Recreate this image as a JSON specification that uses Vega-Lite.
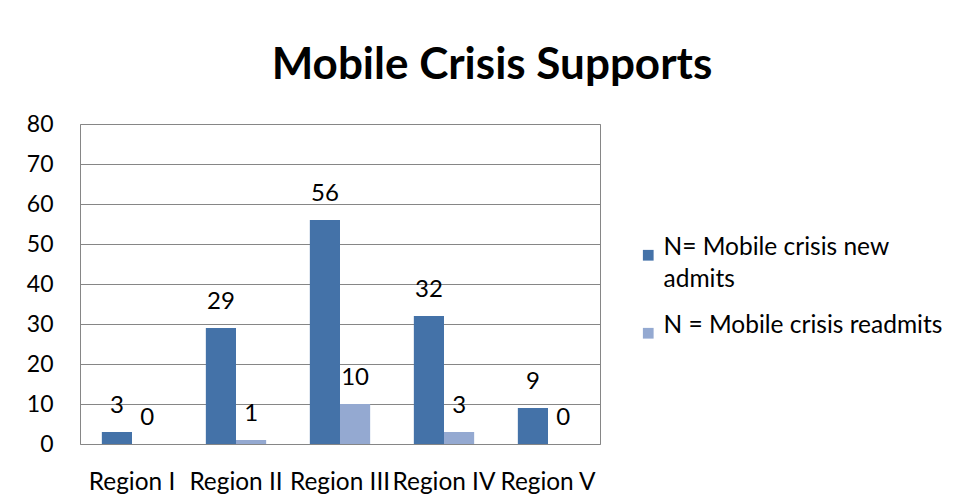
{
  "$schema": "https://vega.github.io/schema/vega-lite/v6.json",
  "width": 520,
  "height": 320,
  "autosize": {"type": "none"},
  "padding": {"left": 80, "top": 124, "right": 356, "bottom": 60},
  "background": "white",
  "config": {
    "font": "Lato",
    "view": {"stroke": "#868686", "strokeWidth": 1},
    "axis": {"labelFont": "Lato", "labelColor": "#000000", "ticks": false, "domain": false, "title": null},
    "style": {"guide-label": {"lineHeight": 32}}
  },
  "title": {
    "text": "Mobile Crisis Supports",
    "font": "Lato",
    "fontSize": 44,
    "fontWeight": "bold",
    "color": "#000000",
    "anchor": "middle",
    "frame": "group",
    "dx": 152,
    "dy": 44,
    "baseline": "alphabetic",
    "offset": 34
  },
  "data": {
    "values": [
      {"region": "Region I", "series": "N= Mobile crisis new admits", "value": 3},
      {"region": "Region I", "series": "N = Mobile crisis readmits", "value": 0},
      {"region": "Region II", "series": "N= Mobile crisis new admits", "value": 29},
      {"region": "Region II", "series": "N = Mobile crisis readmits", "value": 1},
      {"region": "Region III", "series": "N= Mobile crisis new admits", "value": 56},
      {"region": "Region III", "series": "N = Mobile crisis readmits", "value": 10},
      {"region": "Region IV", "series": "N= Mobile crisis new admits", "value": 32},
      {"region": "Region IV", "series": "N = Mobile crisis readmits", "value": 3},
      {"region": "Region V", "series": "N= Mobile crisis new admits", "value": 9},
      {"region": "Region V", "series": "N = Mobile crisis readmits", "value": 0}
    ]
  },
  "encoding": {
    "x": {
      "field": "region",
      "type": "nominal",
      "sort": ["Region I", "Region II", "Region III", "Region IV", "Region V"],
      "scale": {"paddingInner": 0.42, "paddingOuter": 0.21},
      "axis": {"labelAngle": 0, "labelPadding": 26, "labelOverlap": false, "labelLimit": 0, "grid": false, "labelFontSize": 24.4}
    },
    "xOffset": {
      "field": "series",
      "type": "nominal",
      "sort": ["N= Mobile crisis new admits", "N = Mobile crisis readmits"]
    },
    "y": {
      "field": "value",
      "type": "quantitative",
      "scale": {"domain": [0, 80], "nice": false},
      "axis": {"values": [0, 10, 20, 30, 40, 50, 60, 70, 80], "labelPadding": 27, "labelFontSize": 23, "grid": true, "gridColor": "#868686", "gridOpacity": 1, "gridWidth": 1}
    }
  },
  "layer": [
    {
      "mark": {"type": "bar"},
      "encoding": {
        "color": {
          "field": "series",
          "type": "nominal",
          "sort": ["N= Mobile crisis new admits", "N = Mobile crisis readmits"],
          "scale": {"range": ["#4472A8", "#94A9D1"]},
          "legend": {
            "title": null,
            "orient": "none",
            "legendX": 556,
            "legendY": 119,
            "padding": 0,
            "symbolType": "square",
            "symbolSize": 115,
            "symbolStrokeWidth": 0,
            "labelFont": "Lato",
            "labelFontSize": 24.5,
            "labelColor": "#000000",
            "labelOffset": 3,
            "labelLimit": 0,
            "labelBaseline": "alphabetic",
            "rowPadding": 21,
            "labelExpr": "datum.label == 'N= Mobile crisis new admits' ? ['N= Mobile crisis new', 'admits'] : datum.label"
          }
        }
      }
    },
    {
      "mark": {"type": "text", "baseline": "alphabetic", "dy": -19, "font": "Lato", "fontSize": 24, "color": "#000000"},
      "encoding": {
        "text": {"field": "value", "type": "quantitative"}
      }
    }
  ]
}
